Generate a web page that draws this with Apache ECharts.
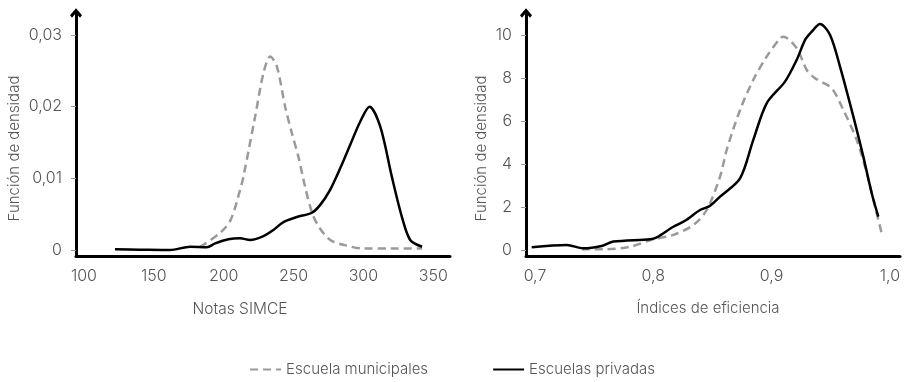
<!DOCTYPE html>
<html><head><meta charset="utf-8">
<script src="https://cdn.jsdelivr.net/npm/echarts@6/dist/echarts.min.js"></script>
<style>html,body{margin:0;padding:0;background:#fff}#c{width:904px;height:382px}</style>
</head><body><div id="c"></div>
<script>
// Left panel: Notas SIMCE
const simceMunX = [183, 197.5, 205, 211.8, 214.1, 222.5, 228.5, 233.3, 238.1, 244, 248.8, 253.5, 258.3, 263.1, 267.9, 276.3, 288.2, 300, 320, 342];
const simceMunY = [0.0004, 0.0024, 0.0042, 0.0084, 0.0102, 0.0186, 0.0247, 0.0270, 0.0256, 0.0200, 0.0163, 0.0130, 0.0088, 0.0053, 0.0033, 0.0014, 0.0006, 0.0002, 0.0002, 0.0002];
const simcePrivX = [122.2, 140, 161.6, 176, 187.9, 193.9, 203.4, 211.8, 218.9, 228.5, 235.6, 242.8, 252.4, 263.1, 269.1, 276.2, 283.4, 290.6, 297.7, 304.4, 312.1, 320.4, 327.6, 333.5, 342];
const simcePrivY = [0.0001, 0.00005, 0.0, 0.00046, 0.00037, 0.00093, 0.0015, 0.00163, 0.0014, 0.00195, 0.0028, 0.0039, 0.0046, 0.0052, 0.0063, 0.0084, 0.0114, 0.0147, 0.0179, 0.0200, 0.0172, 0.0102, 0.0046, 0.0014, 0.00046];
const simceTicksX = [100, 150, 200, 250, 300, 350];
const simceTicksY = [0, 0.01, 0.02, 0.03];

// Right panel: Índices de eficiencia
const efMunX = [0.7395, 0.7577, 0.7803, 0.7999, 0.8169, 0.8338, 0.8451, 0.8564, 0.8620, 0.8733, 0.8845, 0.8958, 0.9071, 0.9099, 0.9212, 0.9297, 0.9367, 0.9508, 0.9606, 0.9719, 0.9804, 0.9874, 0.9930];
const efMunY = [0.03, 0.03, 0.15, 0.50, 0.70, 1.16, 1.86, 3.41, 4.65, 6.51, 7.91, 8.99, 9.84, 9.92, 9.38, 8.37, 7.99, 7.52, 6.51, 5.12, 3.57, 2.01, 0.78];
const efPrivX = [0.6972, 0.7268, 0.7408, 0.7564, 0.7662, 0.7972, 0.8029, 0.8169, 0.8268, 0.8395, 0.8479, 0.8564, 0.8733, 0.8845, 0.8958, 0.9113, 0.9212, 0.9283, 0.9339, 0.9409, 0.9494, 0.9578, 0.9691, 0.9775, 0.9846, 0.9902];
const efPrivY = [0.13, 0.23, 0.08, 0.19, 0.39, 0.50, 0.59, 1.08, 1.36, 1.86, 2.05, 2.48, 3.33, 5.12, 6.82, 7.83, 8.84, 9.77, 10.15, 10.51, 10.0, 8.53, 6.20, 4.34, 2.64, 1.55];
const efTicksX = [0.7, 0.8, 0.9, 1.0];
const efTicksY = [0, 2, 4, 6, 8, 10];

const seriesNames = ['Escuela municipales', 'Escuelas privadas'];
const zip = (xs, ys) => xs.map((x, i) => [x, ys[i]]);

const FONT = 'Inter';
const TXT = '#555';
const arrow = 'path://M6,0 L12,7 L10,9.4 L6,4.8 L2,9.4 L0,7 Z';
const axisLineY = {show: true, symbol: ['none', arrow], symbolSize: [12, 11], lineStyle: {color: '#000', width: 3}};
const axisLineX = {show: true, onZero: false, lineStyle: {color: '#000', width: 3}};
const lbl = {color: TXT, fontFamily: FONT, fontWeight: 300, fontSize: 16};
const nameStyle = {color: TXT, fontFamily: FONT, fontWeight: 300, fontSize: 15};
const comma = (d) => (v) => v === 0 ? '0' : v.toFixed(d).replace('.', ',');

const munStyle = {color: '#9a9a9a', width: 2.5, type: [8, 5]};
const privStyle = {color: '#000', width: 2.5};

const option = {
  animation: false,
  grid: [
    {left: 76, top: 13, width: 374, height: 243},
    {left: 526, top: 13, width: 374, height: 243}
  ],
  xAxis: [
    {type: 'value', gridIndex: 0, min: 94.3, max: 362, position: 'bottom',
     axisLine: axisLineX, axisTick: {show: false}, splitLine: {show: false},
     axisLabel: Object.assign({customValues: simceTicksX, margin: 12, formatter: comma(0)}, lbl),
     name: 'Notas SIMCE', nameLocation: 'middle', nameGap: 45,
     nameTextStyle: Object.assign({padding: [0, 46, 0, 0]}, nameStyle, {fontSize: 15.5})},
    {type: 'value', gridIndex: 1, min: 0.6924, max: 1.0085, position: 'bottom',
     axisLine: axisLineX, axisTick: {show: false}, splitLine: {show: false},
     axisLabel: Object.assign({customValues: efTicksX, margin: 12, formatter: comma(1)}, lbl),
     name: 'Índices de eficiencia', nameLocation: 'middle', nameGap: 45,
     nameTextStyle: Object.assign({padding: [0, 10, 0, 0]}, nameStyle)}
  ],
  yAxis: [
    {type: 'value', gridIndex: 0, min: -0.000837, max: 0.03307,
     axisLine: axisLineY, splitLine: {show: false},
     axisTick: {show: true, customValues: simceTicksY, length: 5, lineStyle: {color: '#999', width: 1}},
     axisLabel: Object.assign({customValues: simceTicksY, margin: 14, formatter: comma(2)}, lbl),
     name: 'Función de densidad', nameLocation: 'middle', nameGap: 54, nameRotate: 90,
     nameTextStyle: Object.assign({padding: [0, 28, 0, 0]}, nameStyle)},
    {type: 'value', gridIndex: 1, min: -0.279, max: 11.02,
     axisLine: axisLineY, splitLine: {show: false},
     axisTick: {show: true, customValues: efTicksY, length: 5, lineStyle: {color: '#999', width: 1}},
     axisLabel: Object.assign({customValues: efTicksY, margin: 14, formatter: comma(0)}, lbl),
     name: 'Función de densidad', nameLocation: 'middle', nameGap: 37, nameRotate: 90,
     nameTextStyle: Object.assign({padding: [0, 28, 0, 0]}, nameStyle)}
  ],
  legend: {
    bottom: 0, left: 'center', itemWidth: 31, itemHeight: 14, itemGap: 64,
    itemStyle: {opacity: 0},
    textStyle: {color: TXT, fontFamily: FONT, fontWeight: 300, fontSize: 15},
    data: seriesNames
  },
  series: [
    {name: seriesNames[0], type: 'line', xAxisIndex: 0, yAxisIndex: 0, data: zip(simceMunX, simceMunY),
     showSymbol: false, symbol: 'none', smooth: 0.3, lineStyle: munStyle, itemStyle: {color: '#9a9a9a'}},
    {name: seriesNames[1], type: 'line', xAxisIndex: 0, yAxisIndex: 0, data: zip(simcePrivX, simcePrivY),
     showSymbol: false, symbol: 'none', smooth: 0.3, lineStyle: privStyle, itemStyle: {color: '#000'}},
    {name: seriesNames[0], type: 'line', xAxisIndex: 1, yAxisIndex: 1, data: zip(efMunX, efMunY),
     showSymbol: false, symbol: 'none', smooth: 0.3, lineStyle: munStyle, itemStyle: {color: '#9a9a9a'}},
    {name: seriesNames[1], type: 'line', xAxisIndex: 1, yAxisIndex: 1, data: zip(efPrivX, efPrivY),
     showSymbol: false, symbol: 'none', smooth: 0.3, lineStyle: privStyle, itemStyle: {color: '#000'}}
  ]
};
const chart = echarts.init(document.getElementById('c'), null, {renderer: 'canvas'});
chart.setOption(option);
</script>
</body></html>
